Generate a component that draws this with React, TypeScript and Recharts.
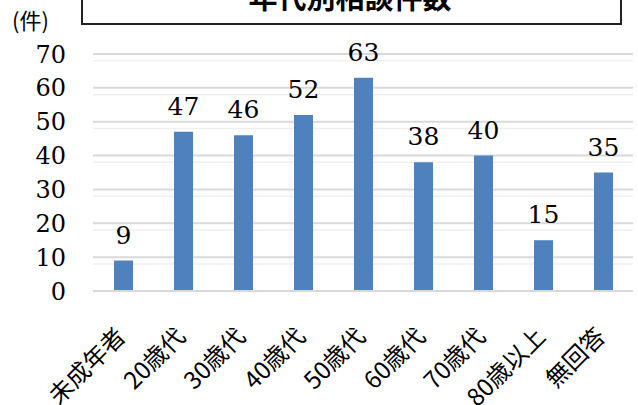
import { BarChart, Bar, XAxis, YAxis, CartesianGrid, LabelList } from "recharts";

// 年代別相談件数
const categories = ["未成年者", "20歳代", "30歳代", "40歳代", "50歳代", "60歳代", "70歳代", "80歳以上", "無回答"];
const counts = [9, 47, 46, 52, 63, 38, 40, 15, 35];
const yTicks = [0, 10, 20, 30, 40, 50, 60, 70];
const minorTicks = [2, 4, 6, 8, 12, 14, 16, 18, 22, 24, 26, 28, 32, 34, 36, 38, 42, 44, 46, 48, 52, 54, 56, 58, 62, 64, 66, 68];

const data = categories.map((name, i) => ({ name, count: counts[i] }));

const serif = '"DejaVu Serif", "Liberation Serif", serif';
const jpFont = '"Noto Sans CJK JP", sans-serif';

const XTick = (props: any) => {
	const { x, y, payload } = props;
	const ax = x + 4;
	const ay = y + 47;
	return (
		<text x={ax} y={ay} transform={`rotate(-45 ${ax} ${ay})`} textAnchor="end" fontSize={24} fontFamily={jpFont} fill="#000">
			{payload.value}
		</text>
	);
};

export default function App() {
	return (
		<div style={{ position: "absolute", top: 0, left: 0, width: 638, height: 405, overflow: "hidden", background: "#fff" }}>
			<BarChart width={638} height={405} data={data} margin={{ top: 54, right: 5, left: 0, bottom: 54 }}>
				<CartesianGrid vertical={false} horizontalValues={minorTicks} stroke="#efefef" strokeWidth={1.5} />
				<CartesianGrid vertical={false} horizontalValues={yTicks} stroke="#d9d9d9" strokeWidth={2} />
				<XAxis dataKey="name" height={60} tickSize={0} tickMargin={0} axisLine={{ stroke: "#d9d9d9", strokeWidth: 2 }} tickLine={false} tick={<XTick />} interval={0} />
				<YAxis domain={[0, 70]} ticks={yTicks} width={93} axisLine={false} tickLine={false} tickSize={0} tickMargin={27} tick={{ fontSize: 24, fontFamily: serif, fill: "#000" }} />
				<Bar dataKey="count" fill="#4f81bd" barSize={19} isAnimationActive={false}>
					<LabelList dataKey="count" position="top" offset={17} style={{ fontSize: 25, fontFamily: serif, fill: "#000" }} />
				</Bar>
			</BarChart>
			<svg width={638} height={405} style={{ position: "absolute", top: 0, left: 0, pointerEvents: "none" }}>
				<rect x={82} y={-20} width={539} height={44} fill="#fff" stroke="#222" strokeWidth={2} />
				<text x={350} y={9} textAnchor="middle" fontSize={29} fontWeight={700} fontFamily={jpFont} fill="#000">年代別相談件数</text>
				<text x={12} y={29} fontSize={22} fontFamily={jpFont} fill="#000">(件)</text>
			</svg>
		</div>
	);
}
